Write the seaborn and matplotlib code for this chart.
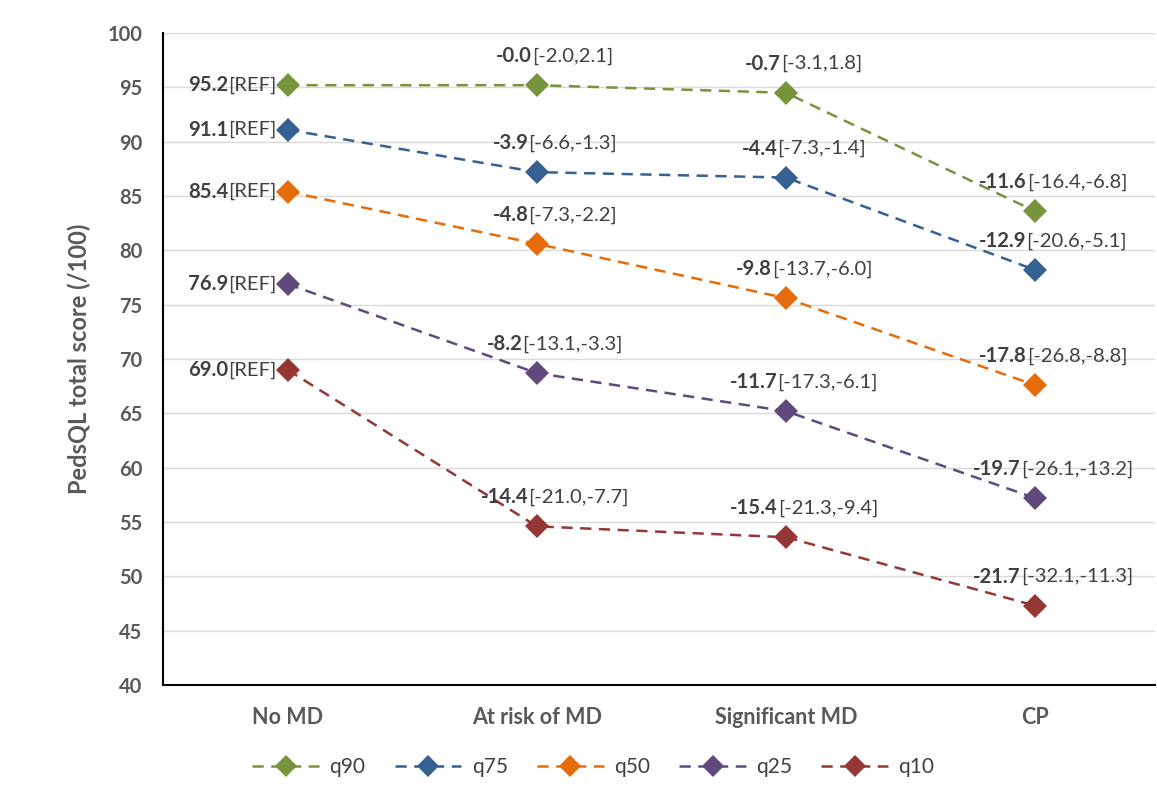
import matplotlib
matplotlib.use('Agg')
import matplotlib.pyplot as plt
import pandas as pd
import seaborn as sns

# Data
groups = ['No MD', 'At risk of MD', 'Significant MD', 'CP']
series = ['q90', 'q75', 'q50', 'q25', 'q10']

q90 = [95.2, 95.2, 94.5, 83.6]
q75 = [91.1, 87.2, 86.7, 78.2]
q50 = [85.4, 80.6, 75.6, 67.6]
q25 = [76.9, 68.7, 65.2, 57.2]
q10 = [69.0, 54.6, 53.6, 47.3]

# difference vs reference, with 95% CI
diff90 = ['-0.0', '-0.7', '-11.6']
ci90 = ['[-2.0,2.1]', '[-3.1,1.8]', '[-16.4,-6.8]']
diff75 = ['-3.9', '-4.4', '-12.9']
ci75 = ['[-6.6,-1.3]', '[-7.3,-1.4]', '[-20.6,-5.1]']
diff50 = ['-4.8', '-9.8', '-17.8']
ci50 = ['[-7.3,-2.2]', '[-13.7,-6.0]', '[-26.8,-8.8]']
diff25 = ['-8.2', '-11.7', '-19.7']
ci25 = ['[-13.1,-3.3]', '[-17.3,-6.1]', '[-26.1,-13.2]']
diff10 = ['-14.4', '-15.4', '-21.7']
ci10 = ['[-21.0,-7.7]', '[-21.3,-9.4]', '[-32.1,-11.3]']

colors = ['#77933C', '#376092', '#E46C0A', '#604A7B', '#953735']

values = [q90, q75, q50, q25, q10]
diffs = [diff90, diff75, diff50, diff25, diff10]
cis = [ci90, ci75, ci50, ci25, ci10]

df = pd.DataFrame({
    'group': groups * len(series),
    'x': list(range(len(groups))) * len(series),
    'series': [s for s in series for _ in groups],
    'score': q90 + q75 + q50 + q25 + q10,
})

sns.set_style('white')
plt.rcParams['font.family'] = ['Lato', 'DejaVu Sans']
grey = '#404040'
axis_grey = '#595959'
dash = (0, (4.5, 3))

fig = plt.figure(figsize=(11.57, 7.98), dpi=100)
ax = fig.add_axes([0.141, 0.1416, 0.857, 0.817])

sns.lineplot(data=df, x='x', y='score', hue='series', hue_order=series,
             palette=colors, marker='D', markersize=12.5, markeredgewidth=0,
             linewidth=1.8, ax=ax, legend=False)
for line in ax.get_lines():
    line.set_linestyle(dash)

ax.set_ylim(40, 100)
ax.set_xlim(-0.5, 3.48)
ax.set_yticks(range(40, 101, 5))
ax.set_xticks(range(len(groups)))
ax.set_xticklabels(groups, fontsize=15.5, fontweight='bold', color=axis_grey)
ax.tick_params(axis='y', labelsize=14.5, colors=axis_grey, length=0, pad=15)
ax.tick_params(axis='x', length=0, pad=16)
for t in ax.get_yticklabels():
    t.set_fontweight('bold')
ax.grid(axis='y', color='#D9D9D9', linewidth=1)
ax.set_axisbelow(True)
ax.set_xlabel('')
ax.set_ylabel('PedsQL total score (/100)', fontsize=17, fontweight='bold',
              color=axis_grey, labelpad=12)
for s in ['top', 'right']:
    ax.spines[s].set_visible(False)
for s in ['left', 'bottom']:
    ax.spines[s].set_color('black')
    ax.spines[s].set_linewidth(1.5)

# data labels: bold difference + regular CI
fig.canvas.draw()
renderer = fig.canvas.get_renderer()
fs = 14.6


def width_px(txt, weight):
    t = fig.text(0, 0, txt, fontsize=fs, fontweight=weight)
    w = t.get_window_extent(renderer).width
    t.remove()
    return w


wref = width_px('[REF]', 'normal')
for vals, dl, cl in zip(values, diffs, cis):
    # reference value, left of the first marker
    ax.annotate('[REF]', (0, vals[0]), xytext=(-11, 0), textcoords='offset pixels',
                ha='right', va='center', fontsize=fs, color=grey)
    ax.annotate(f'{vals[0]:.1f}', (0, vals[0]), xytext=(-11 - wref, 0),
                textcoords='offset pixels', ha='right', va='center',
                fontsize=fs, fontweight='bold', color=grey)
    # other groups, above marker
    for i in range(1, len(groups)):
        wb = width_px(dl[i - 1], 'bold')
        wn = width_px(cl[i - 1], 'normal')
        left = 18 - (wb + wn) / 2
        ax.annotate(dl[i - 1], (i, vals[i]), xytext=(left, 29),
                    textcoords='offset pixels', ha='left', va='center',
                    fontsize=fs, fontweight='bold', color=grey)
        ax.annotate(cl[i - 1], (i, vals[i]), xytext=(left + wb, 29),
                    textcoords='offset pixels', ha='left', va='center',
                    fontsize=fs, color=grey)

handles = [plt.Line2D([], [], color=c, marker='D', markersize=11.5,
                      markeredgewidth=0, linestyle=dash, linewidth=1.8)
           for c in colors]
fig.legend(handles, series, loc='center', bbox_to_anchor=(0.513, 0.039),
           ncol=5, frameon=False, fontsize=15, handlelength=3.2,
           handletextpad=0.5, columnspacing=1.4, labelcolor=grey)

fig.savefig('out.png', dpi=100)
